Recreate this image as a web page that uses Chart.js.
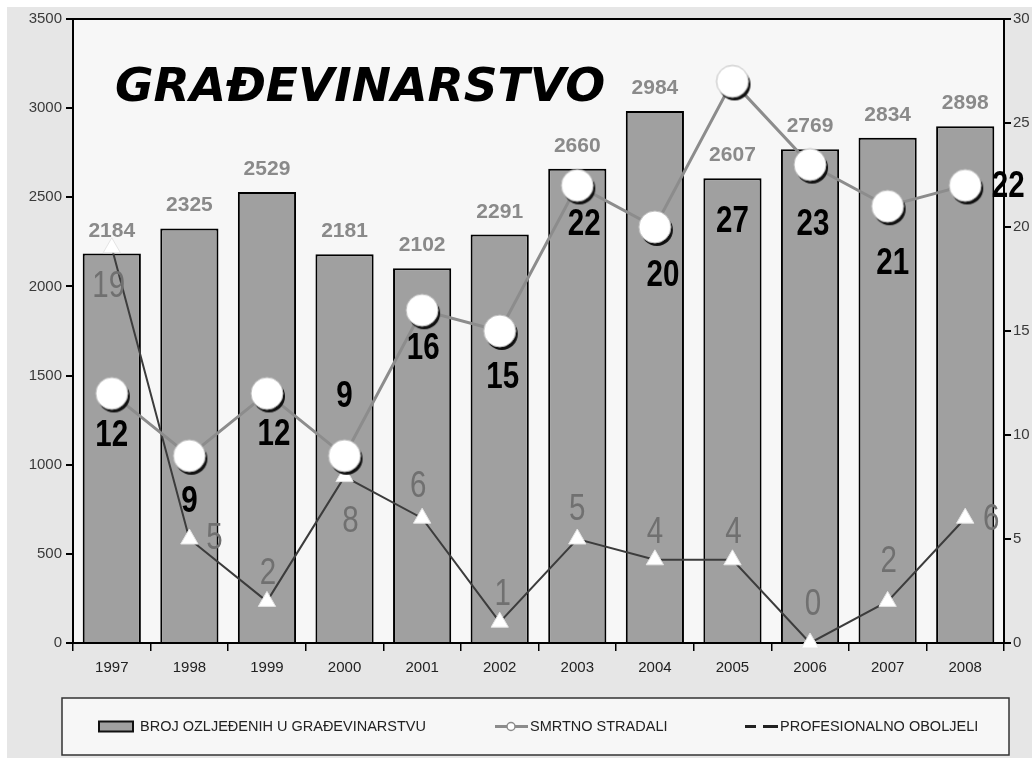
<!DOCTYPE html>
<html>
<head>
<meta charset="utf-8">
<script src="https://cdn.jsdelivr.net/npm/chart.js@4/dist/chart.umd.min.js"></script>
<style>
html,body{margin:0;padding:0;background:#fff;}
#wrap{width:1032px;height:758px;}
</style>
</head>
<body>
<div id="wrap"><canvas id="myChart" width="1032" height="758"></canvas></div>
<script>
const years = ['1997','1998','1999','2000','2001','2002','2003','2004','2005','2006','2007','2008'];
const injured = [2184,2325,2529,2181,2102,2291,2660,2984,2607,2769,2834,2898];
const deaths = [12,9,12,9,16,15,22,20,27,23,21,22];
const occupational = [19,5,2,8,6,1,5,4,4,0,2,6];

const seriesNames = ['BROJ OZLJEĐENIH U GRAĐEVINARSTVU','SMRTNO STRADALI','PROFESIONALNO OBOLJELI'];
const titleText = 'GRAĐEVINARSTVO';

// where each value label sits relative to its point (dx, dy)
const deathLabelOffset = [[0,43],[0,46],[7,42],[0,-59],[1,39],[3,47],[7,40],[8,49],[0,141],[3,60],[5,58],[43,2]];
const occLabelOffset = [[-3,39],[25,0],[1,-27],[6,45],[-4,-31],[3,-27],[0,-29],[0,-27],[1,-27],[3,-38],[1,-39],[26,2]];

const FONT = "'Liberation Sans', Arial, sans-serif";

// round white marker with a dark shadow, like the original
function makeCircle(r){
    const c = document.createElement('canvas');
    const s = r*2+8;
    c.width = s; c.height = s;
    const g = c.getContext('2d');
    g.fillStyle = '#111';
    g.beginPath(); g.arc(s/2+2, s/2+3, r, 0, Math.PI*2); g.fill();
    g.fillStyle = '#fff';
    g.strokeStyle = '#bdbdbd';
    g.lineWidth = 1;
    g.beginPath(); g.arc(s/2, s/2, r, 0, Math.PI*2); g.fill(); g.stroke();
    return c;
}
const circleImg = makeCircle(16);

function narrowText(ctx, text, x, y, sx){
    ctx.save();
    ctx.translate(x, y);
    ctx.scale(sx, 1);
    ctx.fillText(text, 0, 0);
    ctx.restore();
}

const backgroundPlugin = {
    id:'background',
    beforeDraw(chart){
        const ctx = chart.ctx;
        const a = chart.chartArea;
        ctx.save();
        ctx.fillStyle = '#fff';
        ctx.fillRect(0, 0, chart.width, chart.height);
        ctx.fillStyle = '#e6e6e6';
        ctx.fillRect(7, 7, chart.width-7, chart.height-7);
        ctx.fillStyle = '#f7f7f7';
        ctx.fillRect(a.left, a.top, a.right-a.left, a.bottom-a.top);
        ctx.restore();
    },
    beforeDatasetsDraw(chart){
        const ctx = chart.ctx;
        const a = chart.chartArea;
        ctx.save();
        ctx.strokeStyle = '#000';
        ctx.lineWidth = 2;
        ctx.beginPath();
        ctx.moveTo(a.left, a.top);
        ctx.lineTo(a.right, a.top);
        ctx.stroke();
        ctx.restore();
    }
};

const labelPlugin = {
    id:'valueLabels',
    afterDatasetsDraw(chart){
        const ctx = chart.ctx;
        ctx.save();
        // bar values
        ctx.fillStyle = '#8a8a8a';
        ctx.font = 'bold 21px ' + FONT;
        ctx.textAlign = 'center';
        ctx.textBaseline = 'alphabetic';
        chart.getDatasetMeta(0).data.forEach((el, i) => {
            ctx.fillText(String(injured[i]), el.x, el.y - 17);
        });
        ctx.textBaseline = 'middle';
        // occupational disease values
        ctx.fillStyle = '#707070';
        ctx.font = '36px ' + FONT;
        chart.getDatasetMeta(2).data.forEach((el, i) => {
            const o = occLabelOffset[i];
            narrowText(ctx, String(occupational[i]), el.x + o[0], el.y + o[1], 0.82);
        });
        // deaths
        ctx.fillStyle = '#000';
        ctx.font = 'bold 36px ' + FONT;
        chart.getDatasetMeta(1).data.forEach((el, i) => {
            const o = deathLabelOffset[i];
            narrowText(ctx, String(deaths[i]), el.x + o[0], el.y + o[1], 0.82);
        });
        ctx.restore();
    }
};

const titleLegendPlugin = {
    id:'titleLegend',
    afterDraw(chart){
        const ctx = chart.ctx;
        const a = chart.chartArea;
        ctx.save();
        ctx.fillStyle = '#000';
        ctx.font = "italic bold 47px 'DejaVu Sans', Verdana, sans-serif";
        ctx.textAlign = 'left';
        ctx.textBaseline = 'alphabetic';
        ctx.fillText(titleText, a.left + 42, 101);

        // legend box
        const bx = 62, by = 698, bw = 947, bh = 57;
        ctx.fillStyle = '#f7f7f7';
        ctx.fillRect(bx, by, bw, bh);
        ctx.strokeStyle = '#333';
        ctx.lineWidth = 1.5;
        ctx.strokeRect(bx, by, bw, bh);
        const cy = by + bh/2;
        ctx.font = '14.5px ' + FONT;
        ctx.textBaseline = 'middle';

        // bar swatch
        ctx.fillStyle = '#a0a0a0';
        ctx.strokeStyle = '#111';
        ctx.lineWidth = 2;
        ctx.fillRect(99, cy-5, 34, 10);
        ctx.strokeRect(99, cy-5, 34, 10);
        ctx.fillStyle = '#222';
        ctx.fillText(chart.data.datasets[0].label, 140, cy);

        // deaths marker
        ctx.strokeStyle = '#8c8c8c';
        ctx.lineWidth = 3;
        ctx.beginPath(); ctx.moveTo(495, cy); ctx.lineTo(528, cy); ctx.stroke();
        ctx.fillStyle = '#fff';
        ctx.lineWidth = 1.5;
        ctx.beginPath(); ctx.arc(511, cy, 4, 0, Math.PI*2); ctx.fill(); ctx.stroke();
        ctx.fillStyle = '#222';
        ctx.fillText(chart.data.datasets[1].label, 530, cy);

        // occupational marker
        ctx.strokeStyle = '#222';
        ctx.lineWidth = 3;
        ctx.beginPath();
        ctx.moveTo(745, cy); ctx.lineTo(756, cy);
        ctx.moveTo(763, cy); ctx.lineTo(778, cy);
        ctx.stroke();
        ctx.fillText(chart.data.datasets[2].label, 780, cy);
        ctx.restore();
    }
};

const data = {
    labels:years,
    datasets:[
        {
            type:'bar',
            label:seriesNames[0],
            data:injured,
            backgroundColor:'#a0a0a0',
            borderColor:'#000',
            borderWidth:2,
            barPercentage:0.75,
            categoryPercentage:1,
            yAxisID:'y',
            order:3
        },
        {
            type:'line',
            label:seriesNames[1],
            data:deaths,
            borderColor:'#8c8c8c',
            borderWidth:3,
            pointStyle:circleImg,
            pointRadius:16,
            tension:0,
            clip:false,
            yAxisID:'y2',
            order:1
        },
        {
            type:'line',
            label:seriesNames[2],
            data:occupational,
            borderColor:'#3c3c3c',
            borderWidth:2,
            pointStyle:'triangle',
            pointRadius:10,
            pointBackgroundColor:'#fff',
            pointBorderColor:'#e4e4e4',
            pointBorderWidth:1,
            tension:0,
            clip:false,
            yAxisID:'y2',
            order:2
        }
    ]
};

const conf = {
    type:'bar',
    data:data,
    options:{
        responsive:false,
        animation:false,
        layout:{
            padding:{top:19, bottom:70, left:0, right:0}
        },
        plugins:{
            legend:{display:false},
            tooltip:{enabled:false}
        },
        scales:{
            x:{
                position:'bottom',
                afterFit(s){ s.height = 45; },
                grid:{
                    offset:true,
                    drawOnChartArea:false,
                    color:'#000',
                    lineWidth:1.5,
                    tickLength:8
                },
                border:{color:'#000', width:2},
                ticks:{
                    color:'#222',
                    padding:8,
                    font:{family:FONT, size:15}
                }
            },
            y:{
                type:'linear',
                position:'left',
                min:0,
                max:3500,
                afterFit(s){ s.width = 73; },
                grid:{
                    drawOnChartArea:false,
                    color:'#000',
                    lineWidth:2,
                    tickLength:7
                },
                border:{color:'#000', width:2},
                ticks:{
                    stepSize:500,
                    color:'#3a3a3a',
                    padding:4,
                    font:{family:FONT, size:15},
                    callback:(v) => String(v)
                }
            },
            y2:{
                type:'linear',
                position:'right',
                min:0,
                max:30,
                afterFit(s){ s.width = 28; },
                grid:{
                    drawOnChartArea:false,
                    color:'#000',
                    lineWidth:2,
                    tickLength:7
                },
                border:{color:'#000', width:2},
                ticks:{
                    stepSize:5,
                    color:'#3a3a3a',
                    padding:2,
                    font:{family:FONT, size:15},
                    callback:(v) => String(v)
                }
            }
        }
    },
    plugins:[backgroundPlugin, labelPlugin, titleLegendPlugin]
};

const ctx = document.getElementById('myChart').getContext('2d');
const chart = new Chart(ctx, conf);
</script>
</body>
</html>
